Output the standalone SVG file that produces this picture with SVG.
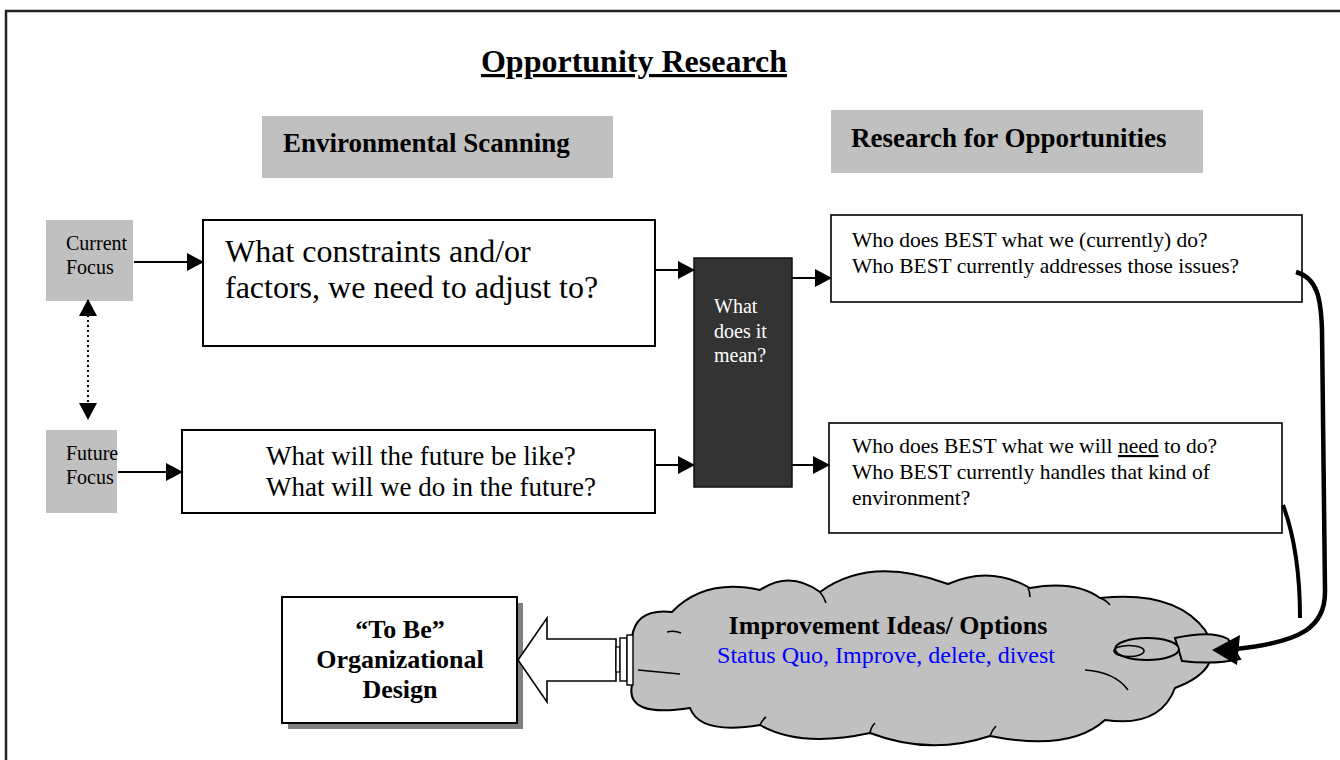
<svg xmlns="http://www.w3.org/2000/svg" width="1340" height="760" viewBox="0 0 1340 760" font-family="'Liberation Serif', 'DejaVu Serif', serif">
  <style>
    text { font-family: 'Liberation Serif', 'DejaVu Serif', serif; fill: #000; }
    .b { font-weight: bold; }
    .box { fill: #fff; stroke: #000; stroke-width: 2; }
    .thin { fill: #fff; stroke: #000; stroke-width: 1.6; }
    .tag { fill: #c0c0c0; }
    .conn { stroke: #000; stroke-width: 2; fill: none; }
    .cloud { fill: #c0c0c0; stroke: #000; stroke-width: 2; }
    .inner { fill: none; stroke: #000; stroke-width: 1.6; }
  </style>
  <defs>
    <marker id="head" markerUnits="userSpaceOnUse" markerWidth="17" markerHeight="18" refX="16" refY="9" orient="auto-start-reverse">
      <path d="M0,0 L17,9 L0,18 Z" fill="#000"/>
    </marker>
  </defs>

  <rect width="1340" height="760" fill="#fff"/>
  <!-- page frame -->
  <rect x="6" y="11" width="1400" height="800" fill="none" stroke="#222" stroke-width="2.5"/>

  <!-- title -->
  <g id="title">
    <text x="634" y="72" class="b" font-size="32" text-anchor="middle" text-decoration="underline">Opportunity Research</text>
  </g>

  <!-- column headers -->
  <g id="hdr-scanning">
    <rect x="262" y="116" width="351" height="62" class="tag"/>
    <text x="283" y="152" class="b" font-size="27">Environmental Scanning</text>
  </g>
  <g id="hdr-research">
    <rect x="831" y="110" width="372" height="63" class="tag"/>
    <text x="851" y="147" class="b" font-size="27">Research for Opportunities</text>
  </g>

  <!-- focus tags -->
  <g id="current-focus">
    <rect x="46" y="220" width="87" height="81" class="tag"/>
    <text x="66" y="250" font-size="20">Current</text>
    <text x="66" y="274" font-size="20">Focus</text>
  </g>
  <g id="future-focus">
    <rect x="46" y="430" width="71" height="83" class="tag"/>
    <text x="66" y="460" font-size="20">Future</text>
    <text x="66" y="484" font-size="20">Focus</text>
  </g>

  <!-- scanning questions -->
  <g id="constraints">
    <rect x="203" y="220" width="452" height="126" class="box"/>
    <text x="225" y="262" font-size="32">What constraints and/or</text>
    <text x="225" y="298" font-size="32">factors, we need to adjust to?</text>
  </g>
  <g id="future">
    <rect x="182" y="430" width="473" height="83" class="box"/>
    <text x="266" y="465" font-size="27">What will the future be like?</text>
    <text x="266" y="496" font-size="27">What will we do in the future?</text>
  </g>

  <!-- interpretation -->
  <g id="meaning">
    <rect x="694" y="258" width="98" height="229" fill="#333" stroke="#111" stroke-width="1.5"/>
    <text x="714" y="313" font-size="20" style="fill:#fff">What</text>
    <text x="714" y="338" font-size="20" style="fill:#fff">does it</text>
    <text x="714" y="362" font-size="20" style="fill:#fff">mean?</text>
  </g>

  <!-- research questions -->
  <g id="best-current">
    <rect x="831" y="215" width="471" height="87" class="thin"/>
    <text x="852" y="247" font-size="21.5">Who does BEST what we (currently) do?</text>
    <text x="852" y="273" font-size="21.5">Who BEST currently addresses those issues?</text>
  </g>
  <g id="best-future">
    <rect x="829" y="423" width="453" height="110" class="thin"/>
    <text x="852" y="453" font-size="21.5">Who does BEST what we will <tspan text-decoration="underline">need</tspan> to do?</text>
    <text x="852" y="479" font-size="21.5">Who BEST currently handles that kind of</text>
    <text x="852" y="505" font-size="21.5">environment?</text>
  </g>

  <!-- improvement ideas cloud -->
  <g id="ideas">
    <path class="cloud" d="M632,637 Q636,608 672,612 Q705,578 760,590 Q790,570 820,592 Q870,555 948,584 Q990,565 1030,588 Q1075,580 1100,598 Q1175,590 1205,630 Q1228,668 1175,688 Q1160,728 1105,720 Q1070,752 990,736 Q930,756 870,733 Q800,748 760,725 Q700,735 690,708 Q625,718 632,685 Z"/>
    <path class="inner" d="M667,632 Q674,630 681,633 M820,592 Q824,597 826,603 M1028,588 Q1030,592 1030,597 M1100,598 Q1106,600 1110,605 M1085,670 Q1115,672 1128,690 M870,733 Q871,727 875,723 M990,736 Q992,730 996,726 M760,725 Q762,720 766,717 M638,670 L680,674"/>
    <path class="cloud" d="M1175,638 Q1212,630 1228,639 L1240,659 Q1214,665 1182,661 Z"/>
    <ellipse cx="1147" cy="649" rx="32" ry="11" class="cloud"/>
    <ellipse cx="1129" cy="651" rx="15" ry="5.5" class="inner"/>
    <text x="888" y="634" class="b" font-size="26" text-anchor="middle">Improvement Ideas/ Options</text>
    <text x="886" y="663" font-size="24" text-anchor="middle" style="fill:#00f">Status Quo, Improve, delete, divest</text>
  </g>

  <!-- target design -->
  <g id="to-be">
    <rect x="288" y="603" width="235" height="126" fill="#808080"/>
    <rect x="282" y="597" width="235" height="126" class="box"/>
    <text x="400" y="638" class="b" font-size="26" text-anchor="middle">“To Be”</text>
    <text x="400" y="668" class="b" font-size="26" text-anchor="middle">Organizational</text>
    <text x="400" y="698" class="b" font-size="26" text-anchor="middle">Design</text>
  </g>

  <!-- connectors -->
  <g id="connectors">
    <line x1="134" y1="262" x2="203" y2="262" class="conn" marker-end="url(#head)"/>
    <line x1="118" y1="472" x2="182" y2="472" class="conn" marker-end="url(#head)"/>
    <line x1="88" y1="300" x2="88" y2="419" class="conn" stroke-width="1.5" stroke-dasharray="2 3" marker-start="url(#head)" marker-end="url(#head)"/>
    <line x1="655" y1="270" x2="694" y2="270" class="conn" marker-end="url(#head)"/>
    <line x1="655" y1="465" x2="694" y2="465" class="conn" marker-end="url(#head)"/>
    <line x1="792" y1="278" x2="831" y2="278" class="conn" marker-end="url(#head)"/>
    <line x1="792" y1="465" x2="829" y2="465" class="conn" marker-end="url(#head)"/>

    <!-- feedback from both research boxes into the cloud -->
    <path d="M1296,272 C1318,278 1321,300 1322,330 L1325,590 C1326,628 1300,642 1236,649" fill="none" stroke="#000" stroke-width="4.5"/>
    <path d="M1283,505 C1296,540 1300,580 1300,618" fill="none" stroke="#000" stroke-width="4"/>
    <path d="M1212,650 L1240,635 L1237,665 Z" fill="#000"/>

    <!-- hollow block arrow from cloud to design -->
    <path d="M518,660 L547,618 L547,639 L616,639 L616,681 L547,681 L547,702 Z" fill="#fff" stroke="#000" stroke-width="1.6"/>
    <rect x="616" y="647" width="4" height="25" fill="#fff" stroke="#000" stroke-width="1.2"/>
    <rect x="620" y="638" width="7" height="43" fill="#fff" stroke="#000" stroke-width="1.4"/>
    <rect x="627" y="635" width="6" height="50" fill="#fff" stroke="#000" stroke-width="1.4"/>
  </g>
</svg>
